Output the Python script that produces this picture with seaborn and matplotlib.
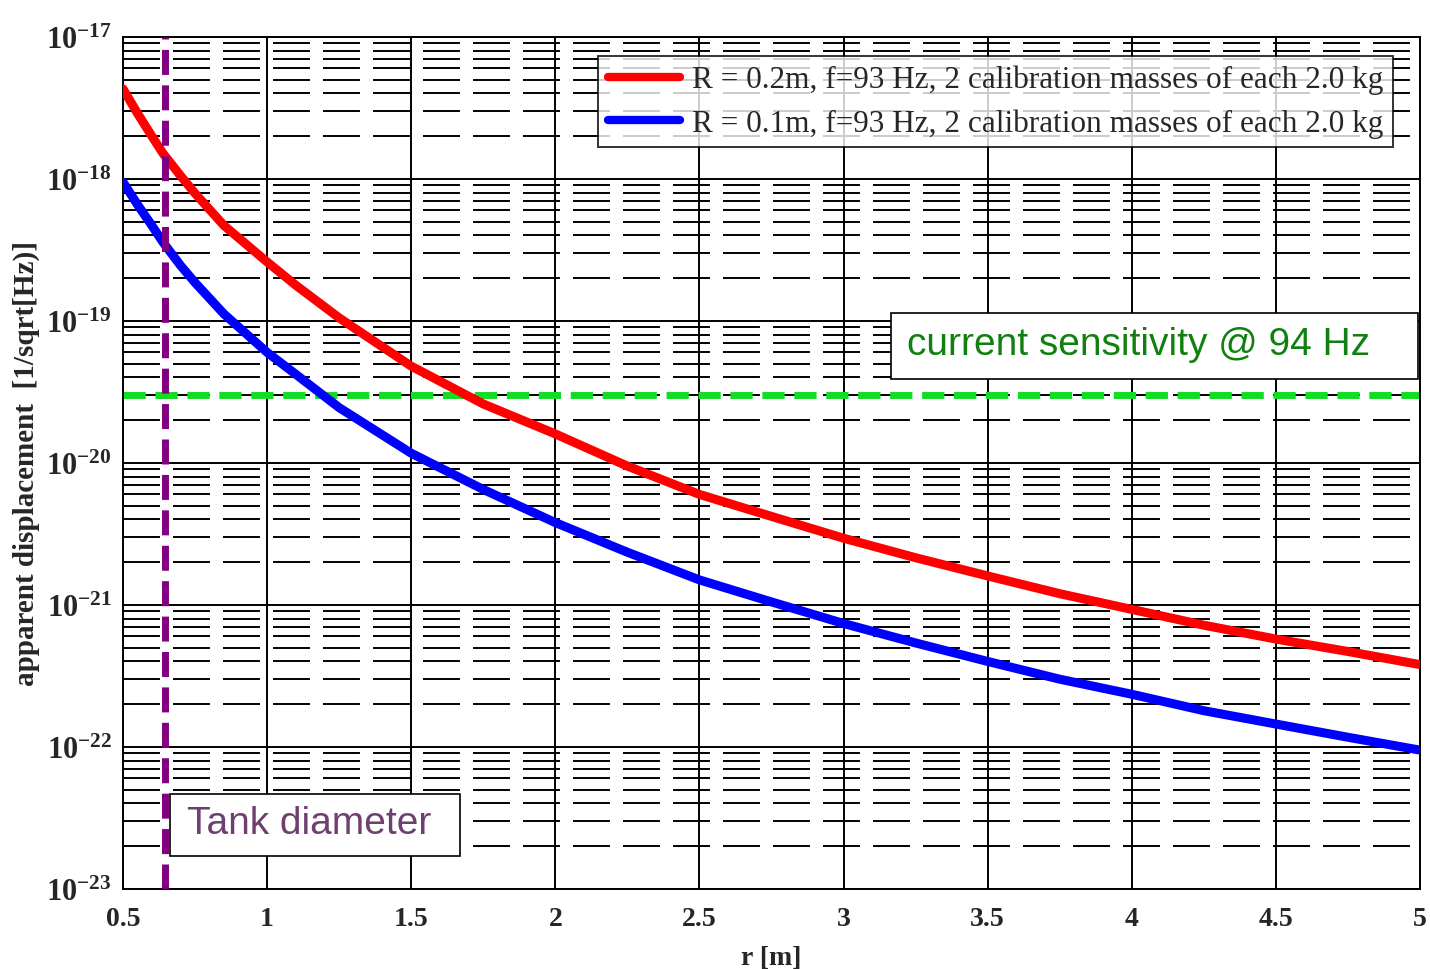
import matplotlib
matplotlib.use("Agg")
import matplotlib.pyplot as plt
import seaborn as sns
import pandas as pd
from matplotlib.patches import Rectangle
from matplotlib.ticker import FixedLocator, FixedFormatter, NullFormatter

# distance r [m]
r_m = [0.5, 0.55, 0.6, 0.64, 0.7, 0.75, 0.85, 1.0, 1.1, 1.25, 1.5, 1.75, 2.0, 2.25,
       2.5, 2.75, 3.0, 3.25, 3.5, 3.75, 4.0, 4.25, 4.5, 4.75, 5.0]
# apparent displacement, R = 0.2 m
disp_r02 = [4.3e-18, 2.9e-18, 2.0e-18, 1.5e-18, 1.05e-18, 7.9e-19, 4.7e-19, 2.6e-19,
            1.78e-19, 1.05e-19, 4.8e-20, 2.6e-20, 1.6e-20, 9.5e-21, 6.0e-21, 4.2e-21,
            2.95e-21, 2.15e-21, 1.6e-21, 1.2e-21, 9.3e-22, 7.2e-22, 5.75e-22, 4.7e-22,
            3.8e-22]
# apparent displacement, R = 0.1 m
disp_r01 = [9.5e-19, 6.6e-19, 4.7e-19, 3.55e-19, 2.45e-19, 1.86e-19, 1.12e-19, 6.0e-20,
            4.2e-20, 2.45e-20, 1.17e-20, 6.5e-21, 3.8e-21, 2.35e-21, 1.5e-21, 1.05e-21,
            7.4e-22, 5.4e-22, 4.0e-22, 3.0e-22, 2.35e-22, 1.8e-22, 1.45e-22, 1.17e-22,
            9.5e-23]

sensitivity = 3e-20
tank_r = 0.645

label_r02 = "R = 0.2m, f=93 Hz, 2 calibration masses of each 2.0 kg"
label_r01 = "R = 0.1m, f=93 Hz, 2 calibration masses of each 2.0 kg"

x_ticks = [0.5, 1, 1.5, 2, 2.5, 3, 3.5, 4, 4.5, 5]
x_ticklabels = ["0.5", "1", "1.5", "2", "2.5", "3", "3.5", "4", "4.5", "5"]
y_exponents = [-23, -22, -21, -20, -19, -18, -17]

sns.set_style("white")
plt.rcParams["font.family"] = ["Liberation Serif", "DejaVu Serif"]
plt.rcParams["mathtext.fontset"] = "custom"
plt.rcParams["mathtext.rm"] = "Liberation Serif:bold"
plt.rcParams["mathtext.bf"] = "Liberation Serif:bold"
plt.rcParams["mathtext.it"] = "Liberation Serif:bold"
plt.rcParams["lines.scale_dashes"] = False

df = pd.DataFrame({"r": r_m, "r02": disp_r02, "r01": disp_r01})

fig = plt.figure(figsize=(14.3, 9.7), dpi=100)
ax = fig.add_axes([0.086, 0.0825, 0.907, 0.8785])
ax.set_yscale("log")

# reference lines
ax.axhline(sensitivity, color="#11dd22", lw=5, ls=(0, (16, 7)), zorder=2)

sns.lineplot(data=df, x="r", y="r02", color="#ff0000", linewidth=6.5, ax=ax,
             label=label_r02, zorder=3)
sns.lineplot(data=df, x="r", y="r01", color="#0000ff", linewidth=6.5, ax=ax,
             label=label_r01, zorder=3)

ax.axvline(tank_r, color="#800080", lw=5, ls=(0, (18, 7.5)), zorder=4)

ax.set_xlim(0.5, 5)
ax.set_ylim(1e-23, 1e-17)

ax.xaxis.set_major_locator(FixedLocator(x_ticks))
ax.xaxis.set_major_formatter(FixedFormatter(x_ticklabels))
ax.yaxis.set_major_locator(FixedLocator([10.0 ** e for e in y_exponents]))
ax.yaxis.set_major_formatter(FixedFormatter([r"$10^{%d}$" % e for e in y_exponents]))
minor_y = [m * 10.0 ** e for e in y_exponents[:-1] for m in range(2, 10)]
ax.yaxis.set_minor_locator(FixedLocator(minor_y))
ax.yaxis.set_minor_formatter(NullFormatter())

ax.grid(which="major", axis="both", color="black", lw=1.4, ls="-", zorder=1)
ax.yaxis.grid(which="minor", color="black", lw=1.4, ls=(0, (26.6, 9.4)))
ax.set_axisbelow(True)

ax.tick_params(axis="x", which="major", labelsize=20, direction="in", length=0, pad=12)
ax.tick_params(axis="y", which="major", labelsize=22, direction="in", length=0, pad=8)
ax.tick_params(axis="y", which="minor", length=0)
for lab in ax.get_xticklabels():
    lab.set_fontweight("bold")

for sp in ax.spines.values():
    sp.set_color("black")
    sp.set_linewidth(1.4)

ax.set_xlabel("r [m]", fontsize=20, fontweight="bold", labelpad=10)
ax.set_ylabel("apparent displacement  [1/sqrt[Hz)]", fontsize=21, fontweight="bold", labelpad=4)

leg = ax.legend(loc="upper right", bbox_to_anchor=(0.979, 0.978), borderaxespad=0,
                fontsize=22.5, frameon=True, fancybox=False, edgecolor="black",
                handlelength=2.3, handletextpad=0.4, borderpad=0.3, labelspacing=0.45)
leg.get_frame().set_linewidth(1.4)
for h in leg.get_lines():
    h.set_linewidth(6)

# annotation boxes
ax.add_patch(Rectangle((0.592, 0.599), 0.4065, 0.077, transform=ax.transAxes,
                       facecolor="white", edgecolor="black", lw=1.2, zorder=5))
ax.text(0.783, 0.640, "current sensitivity @ 94 Hz", transform=ax.transAxes,
        ha="center", va="center", fontsize=28, color="#108010",
        family=["Liberation Sans", "DejaVu Sans"], zorder=6)

ax.add_patch(Rectangle((0.0362, 0.0387), 0.2238, 0.0728, transform=ax.transAxes,
                       facecolor="white", edgecolor="black", lw=1.2, zorder=5))
ax.text(0.1434, 0.077, "Tank diameter", transform=ax.transAxes,
        ha="center", va="center", fontsize=28, color="#6f3f6f",
        family=["Liberation Sans", "DejaVu Sans"], zorder=6)

fig.savefig("out.png", dpi=100)
